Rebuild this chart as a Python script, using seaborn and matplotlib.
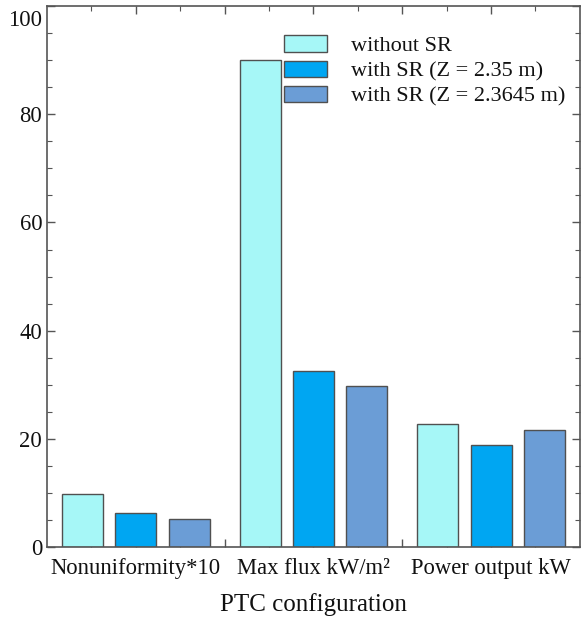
import matplotlib
matplotlib.use("Agg")
import matplotlib.pyplot as plt
import matplotlib.transforms as mtransforms
import seaborn as sns
import pandas as pd
from matplotlib.ticker import FixedLocator, MultipleLocator

categories = ["Nonuniformity*10", "Max flux kW/m²", "Power output kW"]
series = ["without SR", "with SR (Z = 2.35 m)", "with SR (Z = 2.3645 m)"]
without_sr = [9.8, 90.1, 22.8]
with_sr_235 = [6.3, 32.5, 18.8]
with_sr_23645 = [5.2, 29.8, 21.7]
colors = ["#A6F7F7", "#00A6F2", "#6B9DD6"]

rows = []
for s, vals in zip(series, [without_sr, with_sr_235, with_sr_23645]):
    for c, v in zip(categories, vals):
        rows.append({"cat": c, "series": s, "value": v})
df = pd.DataFrame(rows)

sns.set_theme(style="white")
plt.rcParams["font.family"] = ["Liberation Serif", "DejaVu Serif"]

fig = plt.figure(figsize=(5.81, 6.18), dpi=100)
ax = fig.add_axes([0.081, 0.115, 0.917, 0.875])

sns.barplot(data=df, x="cat", y="value", hue="series", order=categories,
            hue_order=series, palette=colors, saturation=1, width=0.9, gap=0.23,
            edgecolor="#505050", linewidth=1.0, ax=ax, legend=True)

ax.set_xlim(-0.5, 2.5)
ax.set_ylim(0, 100)
ax.yaxis.set_major_locator(MultipleLocator(20))
ax.yaxis.set_minor_locator(MultipleLocator(5))
xt = [0, 0.5, 1, 1.5, 2]
ax.xaxis.set_major_locator(FixedLocator(xt))
ax.set_xticklabels([categories[0], "", categories[1], "", categories[2]])
ax.xaxis.set_minor_locator(FixedLocator([-0.25, 0.25, 0.75, 1.25, 1.75, 2.25]))
ax.tick_params(axis="both", which="both", direction="in", top=True, right=True,
               bottom=True, left=True, colors="#555555", labelcolor="#111111")
ax.tick_params(axis="both", which="major", length=6, width=1, labelsize=16.3)
ax.tick_params(axis="both", which="minor", length=3.5, width=0.8)
ax.tick_params(axis="x", which="major", pad=8)
for sp in ax.spines.values():
    sp.set_color("#555555")
    sp.set_linewidth(1.2)

fig.canvas.draw()
for lab in ax.get_yticklabels():
    if lab.get_text() == "100":
        lab.set_transform(lab.get_transform() +
                          mtransforms.ScaledTranslation(0, -12 / 100, fig.dpi_scale_trans))

ax.set_xlabel("PTC configuration", fontsize=18, color="#111111", labelpad=10)
ax.set_ylabel("")

leg = ax.legend(loc="upper left", bbox_to_anchor=(0.415, 0.975), frameon=False,
                fontsize=16, handlelength=1.95, handleheight=0.75,
                labelspacing=0.2, handletextpad=1.1, borderpad=0.2)
for t in leg.get_texts():
    t.set_color("#111111")

fig.savefig("out.png", dpi=100)
